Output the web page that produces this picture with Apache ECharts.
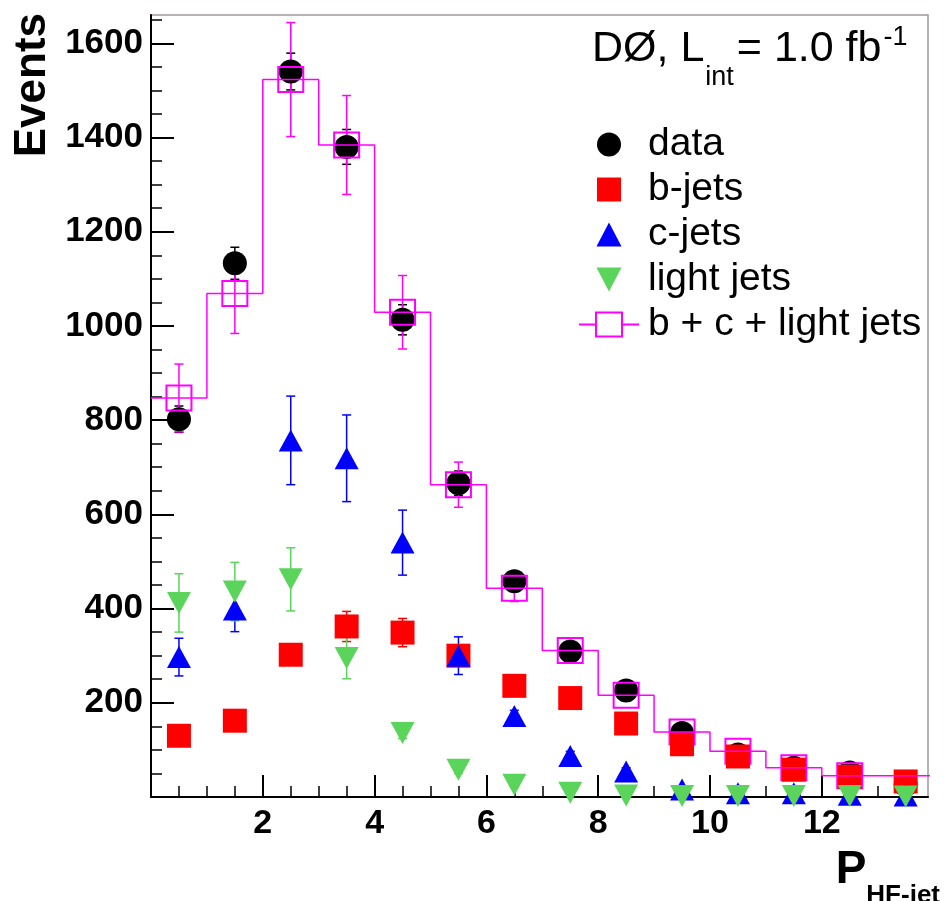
<!DOCTYPE html>
<html>
<head>
<meta charset="utf-8">
<title>P_HF-jet distribution</title>
<script src="https://cdn.jsdelivr.net/npm/echarts@6/dist/echarts.min.js"></script>
<style>
  html, body { margin: 0; padding: 0; background: #fff; }
  #chart { width: 944px; height: 901px; }
</style>
</head>
<body>
<div id="chart"></div>
<script>
// Bin layout of the P_HF-jet histogram
const binEdges   = [0, 1, 2, 3, 4, 5, 6, 7, 8, 9, 10, 11, 12, 13, 14];
const binCenters = [0.5, 1.5, 2.5, 3.5, 4.5, 5.5, 6.5, 7.5, 8.5, 9.5, 10.5, 11.5, 12.5, 13.5];

// Measured events and template fit components (value, error)
const dataValues  = [802, 1133, 1540, 1380, 1013, 666, 458, 309, 226, 136, 90, 62, 52, 26];
const dataErrors  = [28, 34, 39, 37, 32, 26, 21, 18, 15, 12, 10, 8, 7, 5];
const mcValues    = [847, 1069, 1523, 1384, 1029, 663, 443, 311, 216, 138, 97, 62, 45, 45];
const mcErrors    = [72, 85, 121, 105, 78, 48, 28, 18, 12, 8, 6, 5, 4, 3];
const bValues     = [130, 162, 302, 362, 349, 300, 236, 210, 156, 112, 86, 58, 43, 33];
const bErrors     = [12, 15, 22, 32, 30, 22, 18, 15, 12, 9, 7, 5, 4, 3];
const cValues     = [297, 398, 757, 719, 540, 300, 172, 87, 54, 16, 8, 8, 5, 3];
const cErrors     = [40, 47, 94, 92, 69, 40, 12, 10, 8, 6, 4, 3, 3, 2];
const lightValues = [412, 436, 462, 295, 136, 58, 26, 9, 3, 2, 2, 2, 2, 1];
const lightErrors = [62, 62, 67, 44, 12, 8, 6, 4, 3, 2, 2, 2, 2, 1];

// Axis ticks and labels
const xMajorTicks = [2, 4, 6, 8, 10, 12];
const xMinorTicks = [0.5, 1, 1.5, 2.5, 3, 3.5, 4.5, 5, 5.5, 6.5, 7, 7.5, 8.5, 9, 9.5,
                     10.5, 11, 11.5, 12.5, 13, 13.5];
const yMajorTicks = [200, 400, 600, 800, 1000, 1200, 1400, 1600];
const yMinorTicks = [50, 100, 150, 250, 300, 350, 450, 500, 550, 650, 700, 750, 850, 900, 950,
                     1050, 1100, 1150, 1250, 1300, 1350, 1450, 1500, 1550, 1650];

const X_MAX = 13.9;
const Y_MAX = 1660;
// The last bin is cut by the axis range, so its template point is shown only as outline
const MC_MARKER_BINS = 13;

const MAGENTA = '#ff00ff';
const RED = '#ff0000';
const BLUE = '#0000ff';
const GREEN = '#5ad45a';
const FONT = '"Liberation Sans", Arial, Helvetica, sans-serif';

// Vertical error bar with small caps, positioned through the cartesian axes
function errorBarSeries(values, errors, color) {
  return {
    type: 'custom',
    silent: true,
    clip: false,
    data: binCenters.map((x, i) => [x, values[i] - errors[i], values[i] + errors[i]]),
    encode: { x: 0, y: [1, 2] },
    renderItem: function (params, api) {
      const lo = api.coord([api.value(0), api.value(1)]);
      const hi = api.coord([api.value(0), api.value(2)]);
      const cap = 4.5;
      const style = { stroke: color, lineWidth: 1.5 };
      return {
        type: 'group',
        children: [
          { type: 'line', shape: { x1: lo[0], y1: lo[1], x2: hi[0], y2: hi[1] }, style: style },
          { type: 'line', shape: { x1: lo[0] - cap, y1: lo[1], x2: lo[0] + cap, y2: lo[1] }, style: style },
          { type: 'line', shape: { x1: hi[0] - cap, y1: hi[1], x2: hi[0] + cap, y2: hi[1] }, style: style }
        ]
      };
    }
  };
}

function points(values) {
  return values.map((v, i) => [binCenters[i], v]);
}

// Step outline of the summed template, one point per lower bin edge plus the last edge
const stepData = binEdges.map((e, i) => [e, mcValues[Math.min(i, mcValues.length - 1)]]);

const chart = echarts.init(document.getElementById('chart'), null, { renderer: 'canvas' });

const option = {
  animation: false,
  backgroundColor: '#ffffff',
  textStyle: { fontFamily: FONT },
  grid: {
    left: 151, top: 15, right: 16, bottom: 104,
    outerBoundsMode: 'none', containLabel: false,
    show: true, borderColor: '#a09898', borderWidth: 1.5, backgroundColor: 'transparent'
  },
  title: {
    text: 'DØ, L{sub|int}= 1.0 fb{sup|-1}',
    left: 592, top: 4, padding: 0,
    textStyle: {
      fontFamily: FONT, fontSize: 43, fontWeight: 'normal', color: '#000', lineHeight: 90,
      rich: {
        sub: { fontFamily: FONT, fontSize: 27, color: '#000', verticalAlign: 'top', padding: [60, 3, 0, 1] },
        sup: { fontFamily: FONT, fontSize: 27, color: '#000', verticalAlign: 'top', padding: [20, 0, 0, 2] }
      }
    }
  },
  legend: {
    orient: 'vertical',
    left: 578, top: 122,
    padding: 0,
    itemWidth: 60, itemHeight: 24, itemGap: 0,
    selectedMode: false,
    textStyle: { fontFamily: FONT, fontSize: 39, color: '#000', lineHeight: 39, padding: [6, 0, 0, 4] },
    data: [
      { name: 'data', icon: 'path://M0,12A12,12,0,1,1,24,12A12,12,0,1,1,0,12Z',
        itemStyle: { color: '#000', borderWidth: 0, opacity: 1 } },
      { name: 'b-jets', icon: 'path://M0,0H24V24H0Z',
        itemStyle: { color: RED, borderWidth: 0, opacity: 1 } },
      { name: 'c-jets', icon: 'path://M12,0L24,23H0Z',
        itemStyle: { color: BLUE, borderWidth: 0, opacity: 1 } },
      { name: 'light jets', icon: 'path://M0,0H24L12,23Z',
        itemStyle: { color: GREEN, borderWidth: 0, opacity: 1 } },
      { name: 'b + c + light jets', icon: 'path://M0,12H17M17,0H43V24H17ZM43,12H60',
        itemStyle: { color: 'rgba(0,0,0,0)', borderColor: MAGENTA, borderWidth: 2, opacity: 1 } }
    ]
  },
  xAxis: [
    {
      type: 'value', min: 0, max: X_MAX, position: 'bottom',
      name: 'P{s|HF-jet}',
      nameLocation: 'end', nameGap: 12, nameMoveOverlap: false,
      nameTextStyle: {
        fontFamily: FONT, fontSize: 46, fontWeight: 'bold', color: '#000', lineHeight: 80,
        align: 'right', verticalAlign: 'top', padding: [33, 0, 0, 0],
        rich: { s: { fontFamily: FONT, fontSize: 26, fontWeight: 'bold', color: '#000', verticalAlign: 'top', padding: [53, 0, 0, 0] } }
      },
      axisLine: { onZero: false, lineStyle: { color: '#000', width: 2 } },
      axisTick: { inside: true, length: 22, customValues: xMajorTicks, lineStyle: { color: '#000', width: 2 } },
      axisLabel: { customValues: xMajorTicks, fontFamily: FONT, fontSize: 34, fontWeight: 'bold', color: '#000', margin: 10 },
      splitLine: { show: false }
    },
    {
      type: 'value', min: 0, max: X_MAX, position: 'bottom',
      axisLine: { show: false, onZero: false },
      axisTick: { inside: true, length: 11, customValues: xMinorTicks, lineStyle: { color: '#000', width: 1.5 } },
      axisLabel: { show: false },
      splitLine: { show: false }
    }
  ],
  yAxis: [
    {
      type: 'value', min: 0, max: Y_MAX, position: 'left',
      name: 'Events',
      nameLocation: 'end', nameGap: 2, nameRotate: 90, nameMoveOverlap: false,
      nameTextStyle: {
        fontFamily: FONT, fontSize: 44, fontWeight: 'bold', color: '#000',
        align: 'right', verticalAlign: 'bottom', padding: [0, 0, 96, 0]
      },
      axisLine: { onZero: false, lineStyle: { color: '#000', width: 2 } },
      axisTick: { inside: true, length: 23, customValues: yMajorTicks, lineStyle: { color: '#000', width: 2 } },
      axisLabel: {
        customValues: yMajorTicks, fontFamily: FONT, fontSize: 35, fontWeight: 'bold', color: '#000', margin: 8,
        formatter: v => String(v)
      },
      splitLine: { show: false }
    },
    {
      type: 'value', min: 0, max: Y_MAX, position: 'left',
      axisLine: { show: false, onZero: false },
      axisTick: { inside: true, length: 11, customValues: yMinorTicks, lineStyle: { color: '#000', width: 1.5 } },
      axisLabel: { show: false },
      splitLine: { show: false }
    }
  ],
  series: [
    errorBarSeries(dataValues, dataErrors, '#000'),
    {
      name: 'data', type: 'scatter', clip: false,
      symbol: 'circle', symbolSize: 24,
      itemStyle: { color: '#000', opacity: 1 },
      data: points(dataValues)
    },
    {
      name: 'b + c + light jets', type: 'line', step: 'end',
      showSymbol: false, symbol: 'none',
      lineStyle: { color: MAGENTA, width: 1.5 },
      itemStyle: { color: MAGENTA },
      data: stepData
    },
    errorBarSeries(mcValues, mcErrors, MAGENTA),
    {
      name: 'b + c + light jets', type: 'scatter', clip: false,
      symbol: 'rect', symbolSize: 25,
      itemStyle: { color: 'rgba(0,0,0,0)', borderColor: MAGENTA, borderWidth: 2, opacity: 1 },
      data: points(mcValues.slice(0, MC_MARKER_BINS))
    },
    errorBarSeries(bValues, bErrors, RED),
    {
      name: 'b-jets', type: 'scatter', clip: false,
      symbol: 'rect', symbolSize: 24,
      itemStyle: { color: RED, opacity: 1 },
      data: points(bValues)
    },
    errorBarSeries(cValues, cErrors, BLUE),
    {
      name: 'c-jets', type: 'scatter', clip: false,
      symbol: 'triangle', symbolSize: [24, 22],
      itemStyle: { color: BLUE, opacity: 1 },
      data: points(cValues)
    },
    errorBarSeries(lightValues, lightErrors, GREEN),
    {
      name: 'light jets', type: 'scatter', clip: false,
      symbol: 'triangle', symbolSize: [24, 22], symbolRotate: 180,
      itemStyle: { color: GREEN, opacity: 1 },
      data: points(lightValues)
    }
  ]
};

chart.setOption(option);
</script>
</body>
</html>
